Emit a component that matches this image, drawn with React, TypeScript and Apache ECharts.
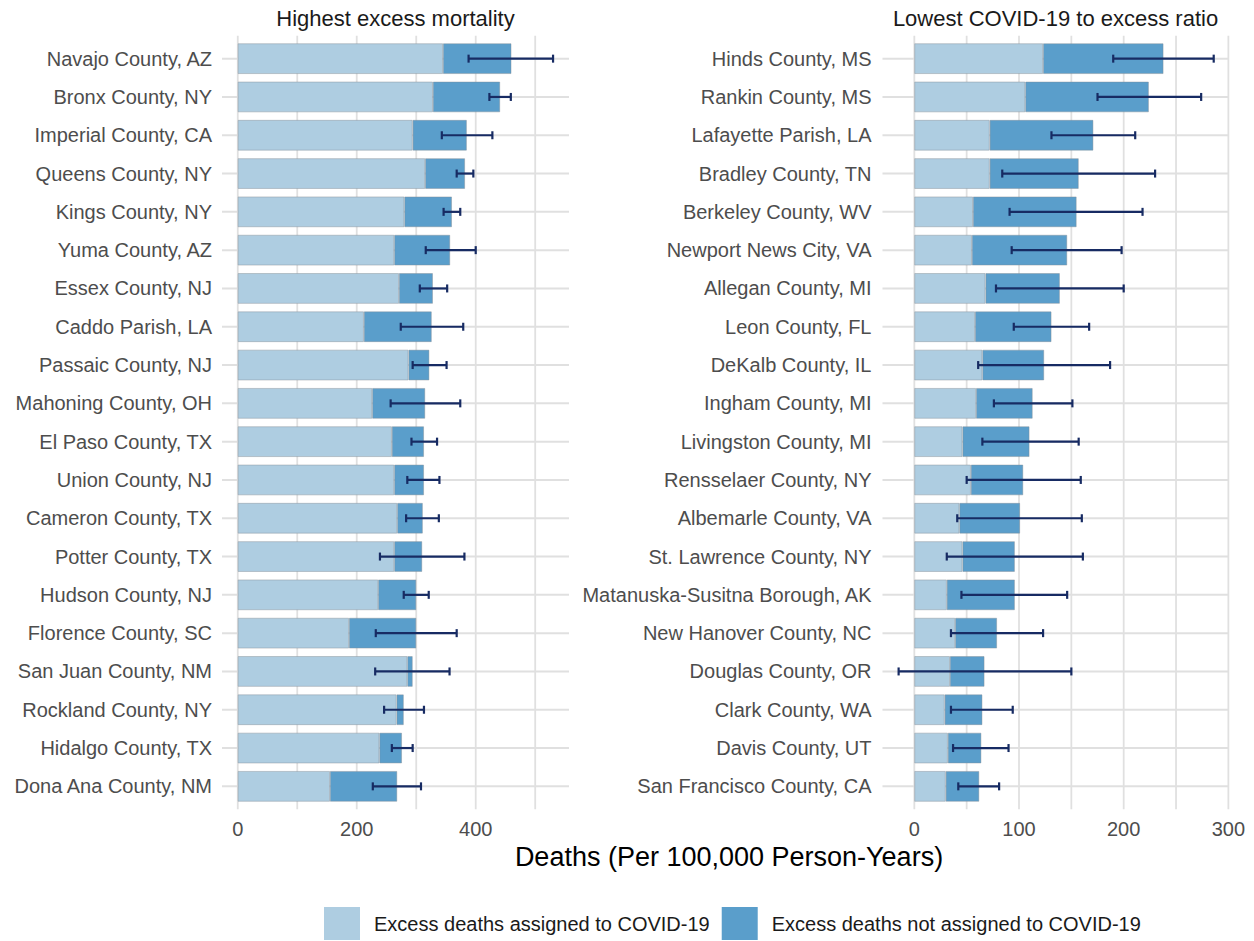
import React, { useEffect, useRef } from "react";
import * as echarts from "echarts";

const leftCounties = ["Navajo County, AZ","Bronx County, NY","Imperial County, CA","Queens County, NY","Kings County, NY","Yuma County, AZ","Essex County, NJ","Caddo Parish, LA","Passaic County, NJ","Mahoning County, OH","El Paso County, TX","Union County, NJ","Cameron County, TX","Potter County, TX","Hudson County, NJ","Florence County, SC","San Juan County, NM","Rockland County, NY","Hidalgo County, TX","Dona Ana County, NM"];
const leftAssigned = [345, 328, 294, 315, 280, 263, 271, 212, 287, 226, 259, 263, 268, 263, 236, 187, 285, 267, 238, 155];
const leftNotAssigned = [115, 113, 91, 67, 80, 94, 57, 114, 35, 89, 54, 50, 43, 47, 64, 113, 9, 12, 38, 113];
const leftLow = [388, 423, 343, 368, 346, 316, 306, 274, 294, 257, 292, 285, 283, 239, 279, 232, 231, 246, 259, 227];
const leftHigh = [530, 459, 428, 396, 374, 400, 352, 379, 351, 374, 335, 339, 338, 381, 321, 368, 356, 313, 294, 308];

const rightCounties = ["Hinds County, MS","Rankin County, MS","Lafayette Parish, LA","Bradley County, TN","Berkeley County, WV","Newport News City, VA","Allegan County, MI","Leon County, FL","DeKalb County, IL","Ingham County, MI","Livingston County, MI","Rensselaer County, NY","Albemarle County, VA","St. Lawrence County, NY","Matanuska-Susitna Borough, AK","New Hanover County, NC","Douglas County, OR","Clark County, WA","Davis County, UT","San Francisco County, CA"];
const rightAssigned = [123, 106, 72, 72, 56, 55, 68, 58, 65, 59, 46, 54, 43, 46, 31, 39, 34, 29, 32, 30];
const rightNotAssigned = [115, 118, 99, 85, 99, 91, 71, 73, 59, 54, 64, 50, 58, 50, 65, 40, 33, 36, 32, 32];
const rightLow = [190, 175, 131, 84, 91, 93, 78, 95, 61, 76, 65, 50, 41, 31, 45, 35, -15, 35, 37, 42];
const rightHigh = [286, 274, 211, 230, 218, 198, 200, 167, 187, 151, 157, 159, 160, 161, 146, 123, 150, 94, 90, 81];

const leftGridValues = [0, 100, 200, 300, 400, 500];
const rightGridValues = [0, 50, 100, 150, 200, 250, 300];
const leftTickLabels = [0, 200, 400];
const rightTickLabels = [0, 100, 200, 300];

const titles = ["Highest excess mortality", "Lowest COVID-19 to excess ratio"];
const xAxisTitle = "Deaths (Per 100,000 Person-Years)";
const seriesNames = ["Excess deaths assigned to COVID-19", "Excess deaths not assigned to COVID-19"];

const LIGHT = "#aecde1";
const DARK = "#5a9ecb";
const ERR = "#172b63";
const GRID = "#e0e0e0";
const FONT = "'Liberation Sans', Arial, Helvetica, sans-serif";

function vGridSeries(idx: number, values: number[], nCats: number) {
  return {
    type: "custom",
    xAxisIndex: idx,
    yAxisIndex: idx,
    silent: true,
    z: 0,
    data: values.map((v) => [v, 0]),
    encode: { x: 0, y: 1 },
    renderItem: (params: any, api: any) => {
      const cs = params.coordSys;
      const x = api.coord([api.value(0), 0])[0];
      const ext = (cs.height / nCats) * 0.1;
      return {
        type: "line",
        shape: { x1: x, y1: cs.y - ext, x2: x, y2: cs.y + cs.height + ext },
        style: { stroke: GRID, lineWidth: 1.8 },
      };
    },
  };
}

function hGridSeries(idx: number, cats: string[]) {
  return {
    type: "custom",
    xAxisIndex: idx,
    yAxisIndex: idx,
    silent: true,
    z: 0,
    data: cats.map((c, i) => [0, i]),
    encode: { x: 0, y: 1 },
    renderItem: (params: any, api: any) => {
      const cs = params.coordSys;
      const y = api.coord([0, api.value(1)])[1];
      return {
        type: "line",
        shape: { x1: cs.x, y1: y, x2: cs.x + cs.width, y2: y },
        style: { stroke: GRID, lineWidth: 2 },
      };
    },
  };
}

function errSeries(idx: number, low: number[], high: number[]) {
  return {
    type: "custom",
    xAxisIndex: idx,
    yAxisIndex: idx,
    silent: true,
    z: 5,
    data: low.map((l, i) => [l, high[i], i]),
    encode: { x: [0, 1], y: 2 },
    renderItem: (params: any, api: any) => {
      const p1 = api.coord([api.value(0), api.value(2)]);
      const p2 = api.coord([api.value(1), api.value(2)]);
      const h = 4;
      const style = { stroke: ERR, lineWidth: 2.2 };
      return {
        type: "group",
        children: [
          { type: "line", shape: { x1: p1[0], y1: p1[1], x2: p2[0], y2: p2[1] }, style },
          { type: "line", shape: { x1: p1[0], y1: p1[1] - h, x2: p1[0], y2: p1[1] + h }, style },
          { type: "line", shape: { x1: p2[0], y1: p2[1] - h, x2: p2[0], y2: p2[1] + h }, style },
        ],
      };
    },
  };
}

function barSeries(idx: number, name: string, data: number[], color: string, stack: string) {
  return {
    type: "bar",
    name,
    xAxisIndex: idx,
    yAxisIndex: idx,
    stack,
    data,
    barWidth: "80%",
    z: 2,
    itemStyle: { color, borderColor: "rgba(130,140,150,0.55)", borderWidth: 0.8 },
  };
}

export default function App() {
  const ref = useRef<HTMLDivElement>(null);
  useEffect(() => {
    if (!ref.current) return;
    const chart = echarts.init(ref.current, null, { renderer: "svg" });
    const gridTop = 39.5;
    const gridHeight = 766;
    const axisLabel = { color: "#4d4d4d", fontSize: 20, fontFamily: FONT };
    const xAxisCommon = {
      type: "value",
      axisLine: { show: false },
      axisTick: { show: false },
      splitLine: { show: false },
    };
    const yAxisCommon = {
      type: "category",
      inverse: true,
      axisLine: { show: false },
      axisTick: { show: false },
      splitLine: { show: false },
    };
    chart.setOption({
      animation: false,
      backgroundColor: "#ffffff",
      textStyle: { fontFamily: FONT },
      grid: [
        { left: 222, width: 347, top: gridTop, height: gridHeight },
        { left: 882.5, width: 346.5, top: gridTop, height: gridHeight },
      ],
      xAxis: [
        { ...xAxisCommon, gridIndex: 0, min: -26.5, max: 556.8, axisLabel: { ...axisLabel, margin: 13, customValues: leftTickLabels } },
        { ...xAxisCommon, gridIndex: 1, min: -30.4, max: 300.6, axisLabel: { ...axisLabel, margin: 13, customValues: rightTickLabels } },
      ],
      yAxis: [
        { ...yAxisCommon, gridIndex: 0, data: leftCounties, axisLabel: { ...axisLabel, margin: 10 } },
        { ...yAxisCommon, gridIndex: 1, data: rightCounties, axisLabel: { ...axisLabel, margin: 11 } },
      ],
      legend: {
        left: 324,
        top: 907,
        padding: 0,
        itemWidth: 36,
        itemHeight: 33,
        itemGap: 12,
        icon: "rect",
        data: seriesNames,
        selectedMode: false,
        itemStyle: { borderWidth: 0 },
        textStyle: { fontSize: 20, color: "#1a1a1a", fontFamily: FONT, padding: [0, 0, 0, 9] },
      },
      graphic: [
        { type: "text", x: 395.5, y: 18, style: { text: titles[0], fill: "#1a1a1a", fontSize: 22, fontFamily: FONT, align: "center", verticalAlign: "middle" } },
        { type: "text", x: 1055.5, y: 18, style: { text: titles[1], fill: "#1a1a1a", fontSize: 22, fontFamily: FONT, align: "center", verticalAlign: "middle" } },
        { type: "text", x: 729, y: 857, style: { text: xAxisTitle, fill: "#000000", fontSize: 27, fontFamily: FONT, align: "center", verticalAlign: "middle" } },
      ],
      series: [
        vGridSeries(0, leftGridValues, leftCounties.length),
        hGridSeries(0, leftCounties),
        vGridSeries(1, rightGridValues, rightCounties.length),
        hGridSeries(1, rightCounties),
        barSeries(0, seriesNames[0], leftAssigned, LIGHT, "L"),
        barSeries(0, seriesNames[1], leftNotAssigned, DARK, "L"),
        barSeries(1, seriesNames[0], rightAssigned, LIGHT, "R"),
        barSeries(1, seriesNames[1], rightNotAssigned, DARK, "R"),
        errSeries(0, leftLow, leftHigh),
        errSeries(1, rightLow, rightHigh),
      ],
    });
    return () => chart.dispose();
  }, []);
  return <div ref={ref} style={{ position: "fixed", left: 0, top: 0, width: 1254, height: 941 }} />;
}
